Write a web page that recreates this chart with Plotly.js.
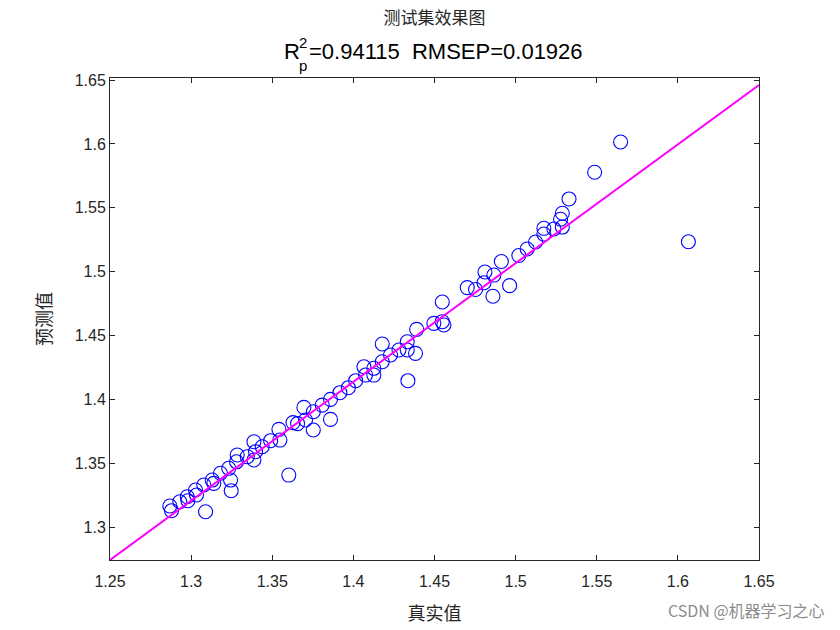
<!DOCTYPE html>
<html>
<head>
<meta charset="utf-8">
<script src="https://cdn.plot.ly/plotly-3.0.1.min.js"></script>
<style>html,body{margin:0;padding:0;background:#fff;}#chart{width:840px;height:630px;}</style>
</head>
<body>
<div id="chart"></div>
<script>
// True values (x) of the test set
const trueVals = [
  1.2869, 1.2879, 1.2930, 1.2976, 1.2980, 1.3027, 1.3033, 1.3078, 1.3130, 1.3140,
  1.3181, 1.3232, 1.3243, 1.3247, 1.3284, 1.3346, 1.3387, 1.3397, 1.3438, 1.3387,
  1.3089, 1.3280, 1.3490, 1.3547, 1.3541, 1.3602, 1.3628, 1.3656, 1.3695, 1.3705,
  1.3753, 1.3753, 1.3808, 1.3859, 1.3859, 1.3917, 1.3969, 1.4014, 1.4075, 1.4065,
  1.4126, 1.4126, 1.4178, 1.4229, 1.4178, 1.4281, 1.4332, 1.4332, 1.4383, 1.4390,
  1.4336, 1.4496, 1.4548, 1.4558, 1.4548, 1.4702, 1.4753, 1.4811, 1.4805, 1.4866,
  1.4912, 1.4860, 1.4963, 1.5020, 1.5071, 1.5123, 1.5174, 1.5174, 1.5236, 1.5288,
  1.5277, 1.5288, 1.5329, 1.5487, 1.5647, 1.6065
];
// Predicted values (y)
const predVals = [
  1.3165, 1.3128, 1.3198, 1.3237, 1.3206, 1.3290, 1.3251, 1.3329, 1.3368, 1.3342,
  1.3421, 1.3460, 1.3368, 1.3284, 1.3564, 1.3551, 1.3525, 1.3590, 1.3629, 1.3668,
  1.3120, 1.3511, 1.3676, 1.3681, 1.3765, 1.3407, 1.3818, 1.3810, 1.3937, 1.3838,
  1.3760, 1.3903, 1.3955, 1.4000, 1.3843, 1.4052, 1.4091, 1.4146, 1.4190, 1.4255,
  1.4243, 1.4190, 1.4294, 1.4347, 1.4433, 1.4386, 1.4451, 1.4386, 1.4360, 1.4548,
  1.4146, 1.4595, 1.4608, 1.4582, 1.4762, 1.4875, 1.4860, 1.4997, 1.4913, 1.4973,
  1.5079, 1.4807, 1.4890, 1.5126, 1.5177, 1.5232, 1.5294, 1.5339, 1.5334, 1.5349,
  1.5410, 1.5457, 1.5569, 1.5778, 1.6015, 1.5234
];
// Fitted line endpoints
const fitX = [1.25, 1.65];
const fitY = [1.2742, 1.6461];

const titleMain = '测试集效果图';
const statR = 'R';
const statSup = '2';
const statSub = 'p';
const statRest = '=0.94115\u00a0\u00a0RMSEP=0.01926';
const xLabel = '真实值';
const yLabel = '预测值';
const watermark = 'CSDN @机器学习之心';

const axisColor = '#262626';
const latin = 'Arial, "Liberation Sans", Helvetica, sans-serif';
const cjk = '"Noto Sans CJK SC", "Noto Sans", sans-serif';

const traces = [
  {
    x: trueVals, y: predVals, type: 'scatter', mode: 'markers',
    marker: {symbol: 'circle-open', size: 14, color: '#0000ff', line: {width: 1.1, color: '#0000ff'}},
    hoverinfo: 'skip', showlegend: false
  },
  {
    x: fitX, y: fitY, type: 'scatter', mode: 'lines',
    line: {color: '#ff00ff', width: 2},
    hoverinfo: 'skip', showlegend: false
  }
];

const axBase = {
  showgrid: false, zeroline: false, showline: true, mirror: 'ticks',
  linecolor: axisColor, linewidth: 1, ticks: 'inside', ticklen: 5,
  tickcolor: axisColor, tickwidth: 1,
  tickfont: {family: latin, size: 16, color: axisColor}
};

const layout = {
  width: 840, height: 630,
  paper_bgcolor: '#ffffff', plot_bgcolor: '#ffffff',
  margin: {l: 110, r: 81, t: 78, b: 70},
  showlegend: false,
  title: {
    text: titleMain, font: {family: cjk, size: 17, color: axisColor},
    xref: 'paper', x: 0.5, xanchor: 'center',
    yref: 'container', y: 1 - 18/630, yanchor: 'middle'
  },
  xaxis: Object.assign({}, axBase, {
    range: [1.25, 1.65], dtick: 0.05, tick0: 1.25, ticklabelstandoff: 7,
    title: {text: xLabel, font: {family: cjk, size: 18, color: axisColor}, standoff: 18}
  }),
  yaxis: Object.assign({}, axBase, {
    range: [1.2742, 1.6516], dtick: 0.05, tick0: 1.3,
    title: {text: yLabel, font: {family: cjk, size: 18, color: axisColor}, standoff: 18}
  }),
  annotations: [
    {text: statR, xref: 'paper', yref: 'paper', x: (302-110)/649, y: (560-52)/482,
     xanchor: 'right', yanchor: 'middle', showarrow: false,
     font: {family: latin, size: 22, color: '#000000'}},
    {text: statSup, xref: 'paper', yref: 'paper', x: (296.5-110)/649, y: (560-42)/482,
     xanchor: 'left', yanchor: 'middle', showarrow: false,
     font: {family: latin, size: 15, color: '#000000'}},
    {text: statSub, xref: 'paper', yref: 'paper', x: (296.5-110)/649, y: (560-65)/482,
     xanchor: 'left', yanchor: 'middle', showarrow: false,
     font: {family: latin, size: 15, color: '#000000'}},
    {text: statRest, xref: 'paper', yref: 'paper', x: (307-110)/649, y: (560-52)/482,
     xanchor: 'left', yanchor: 'middle', showarrow: false,
     font: {family: latin, size: 22, color: '#000000'}},
    {text: watermark, xref: 'paper', yref: 'paper', x: (827-110)/649, y: (560-610)/482,
     xanchor: 'right', yanchor: 'middle', showarrow: false,
     font: {family: cjk, size: 16, color: '#8c8c8c'}}
  ]
};

Plotly.newPlot('chart', traces, layout, {staticPlot: true, displayModeBar: false});
</script>
</body>
</html>
